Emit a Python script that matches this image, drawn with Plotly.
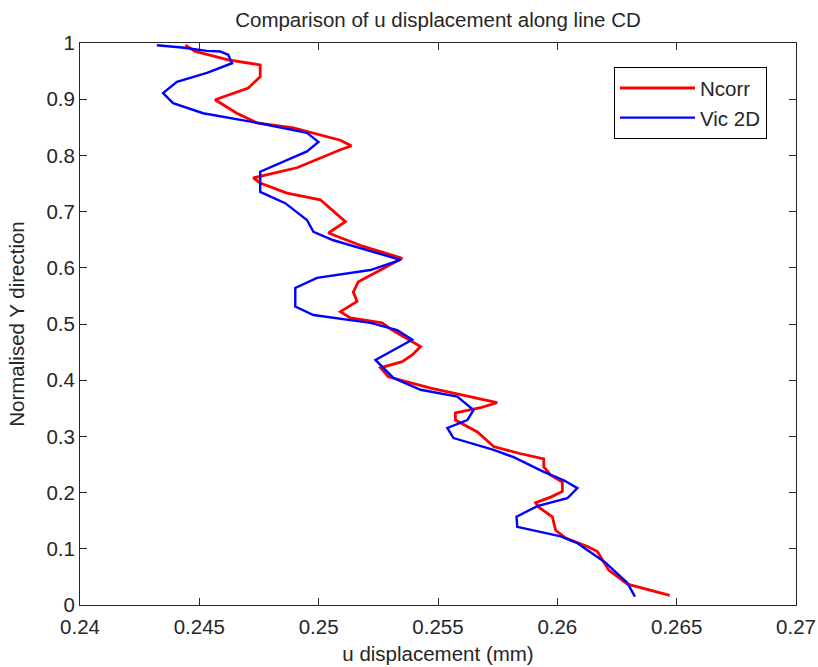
import plotly.graph_objects as go

# Ncorr series (u displacement, normalised y)
ncorr_u = [0.24441, 0.24483, 0.24621, 0.24755, 0.24755, 0.24705, 0.24566, 0.24657, 0.24741,
           0.24894, 0.25091, 0.25137, 0.25091, 0.24909, 0.24726, 0.24755, 0.24867, 0.25007,
           0.25112, 0.25041, 0.25187, 0.25350, 0.25245, 0.25166, 0.25145, 0.25161, 0.25091,
           0.25133, 0.25266, 0.25308, 0.25427, 0.25392, 0.25350, 0.25259, 0.25292, 0.25469,
           0.25748, 0.25678, 0.25573, 0.25573, 0.25665, 0.25733, 0.25838, 0.25943, 0.25943,
           0.25972, 0.26021, 0.26021, 0.25972, 0.25909, 0.25922, 0.25979, 0.25993, 0.26035,
           0.26126, 0.26168, 0.26215, 0.26294, 0.26471]
ncorr_y = [0.996, 0.985, 0.970, 0.961, 0.940, 0.920, 0.899, 0.875, 0.858,
           0.849, 0.827, 0.817, 0.810, 0.778, 0.760, 0.751, 0.733, 0.721,
           0.682, 0.662, 0.638, 0.617, 0.593, 0.575, 0.557, 0.540, 0.522,
           0.511, 0.502, 0.489, 0.460, 0.445, 0.433, 0.422, 0.406, 0.386,
           0.360, 0.351, 0.342, 0.329, 0.308, 0.282, 0.270, 0.260, 0.246,
           0.231, 0.219, 0.202, 0.192, 0.182, 0.174, 0.157, 0.133, 0.119,
           0.104, 0.095, 0.062, 0.037, 0.017]

# Vic 2D series
vic_u = [0.24322, 0.24427, 0.24532, 0.24587, 0.24621, 0.24637, 0.24532, 0.24406, 0.24348,
         0.24390, 0.24516, 0.24741, 0.24951, 0.24999, 0.24951, 0.24839, 0.24755, 0.24755,
         0.24860, 0.24951, 0.24978, 0.25062, 0.25343, 0.25217, 0.24993, 0.24902, 0.24902,
         0.24978, 0.25217, 0.25329, 0.25392, 0.25238, 0.25313, 0.25427, 0.25581, 0.25649,
         0.25623, 0.25539, 0.25565, 0.25733, 0.25817, 0.25943, 0.26027, 0.26084, 0.26042,
         0.25916, 0.25829, 0.25832, 0.26014, 0.26084, 0.26203, 0.26294, 0.26325]
vic_y = [0.996, 0.992, 0.986, 0.985, 0.979, 0.964, 0.947, 0.931, 0.911,
         0.893, 0.875, 0.858, 0.840, 0.824, 0.807, 0.786, 0.771, 0.735,
         0.715, 0.685, 0.664, 0.649, 0.614, 0.596, 0.582, 0.564, 0.531,
         0.516, 0.502, 0.489, 0.472, 0.436, 0.404, 0.383, 0.371, 0.347,
         0.329, 0.315, 0.297, 0.276, 0.263, 0.237, 0.222, 0.208, 0.190,
         0.176, 0.157, 0.139, 0.122, 0.110, 0.075, 0.039, 0.015]

x_ticks = [0.24, 0.245, 0.25, 0.255, 0.26, 0.265, 0.27]
x_tick_labels = ["0.24", "0.245", "0.25", "0.255", "0.26", "0.265", "0.27"]
y_ticks = [0, 0.1, 0.2, 0.3, 0.4, 0.5, 0.6, 0.7, 0.8, 0.9, 1]
y_tick_labels = ["0", "0.1", "0.2", "0.3", "0.4", "0.5", "0.6", "0.7", "0.8", "0.9", "1"]

FONT = "Liberation Sans, Arial, sans-serif"
FS = 20.5
TXT = "#262626"

fig = go.Figure()
fig.add_trace(go.Scatter(x=ncorr_u, y=ncorr_y, mode="lines", name="Ncorr",
                         line=dict(color="#ff0000", width=2.8)))
fig.add_trace(go.Scatter(x=vic_u, y=vic_y, mode="lines", name="Vic 2D",
                         line=dict(color="#0000ff", width=2.4)))

axis_common = dict(showline=True, linecolor=TXT, linewidth=1, mirror="ticks",
                   ticks="inside", ticklen=7, tickcolor=TXT, showgrid=False,
                   zeroline=False, automargin=False, ticklabeloverflow="allow",
                   tickfont=dict(family=FONT, size=FS, color=TXT))

fig.update_layout(
    width=818, height=667,
    margin=dict(l=80, r=22, t=43, b=62, autoexpand=False),
    paper_bgcolor="white", plot_bgcolor="white",
    font=dict(family=FONT, size=FS, color=TXT),
    title=dict(text="Comparison of u displacement along line CD", x=0.5, xref="paper",
               xanchor="center", y=1 - 20 / 667, yanchor="middle", automargin=False,
               font=dict(family=FONT, size=FS, color=TXT)),
    xaxis=dict(range=[0.24, 0.27], tickvals=x_ticks, ticktext=x_tick_labels,
               ticklabelstandoff=3,
               title=dict(text="u displacement (mm)", standoff=10,
                          font=dict(family=FONT, size=FS, color=TXT)),
               **axis_common),
    yaxis=dict(range=[0, 1], tickvals=y_ticks, ticktext=y_tick_labels,
               title=dict(text="Normalised Y direction", standoff=16,
                          font=dict(family=FONT, size=FS, color=TXT)),
               **axis_common),
    legend=dict(x=(767 - 80) / 716, xanchor="right", y=0.957, yanchor="top",
                bordercolor="#000000", borderwidth=1, bgcolor="white",
                font=dict(family=FONT, size=FS, color=TXT),
                itemwidth=75, tracegroupgap=0),
    showlegend=True,
)

fig.write_html("out.html")
